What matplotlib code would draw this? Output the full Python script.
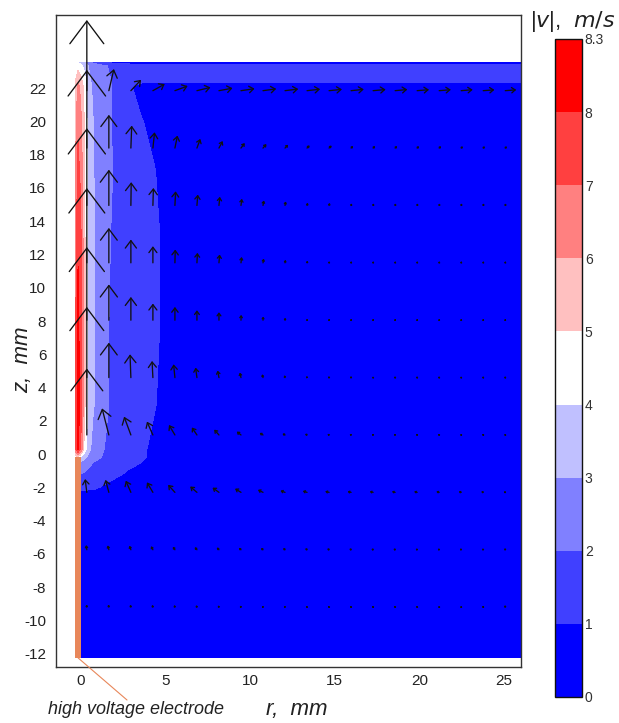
import numpy as np
import matplotlib
matplotlib.use('Agg')
import matplotlib.pyplot as plt
from matplotlib.colors import ListedColormap, BoundaryNorm
from matplotlib.patches import ArrowStyle

# ------------------------------------------------------------------ data
nan = np.nan
# grid of |v| (m/s)
r_nodes = [-0.3, -0.15, 0.0, 0.2, 0.3, 0.45, 0.75, 1.4, 2.5, 3.6, 4.4, 4.9, 6.0, 10.0, 16.0, 22.0, 26.0]
z_nodes = [-12.25, -2.6, -2.0, -1.0, -0.5, -0.2, 0.3, 3.0, 8.0, 13.0, 17.0, 20.0, 22.1, 22.45, 23.35, 23.55]
speed_rows = [
    [nan, nan, 0.20, 0.20, 0.20, 0.20, 0.20, 0.20, 0.19, 0.18, 0.17, 0.16, 0.15, 0.12, 0.10, 0.10, 0.10],
    [nan, nan, 0.50, 0.50, 0.50, 0.50, 0.50, 0.48, 0.45, 0.40, 0.38, 0.36, 0.33, 0.28, 0.24, 0.20, 0.20],
    [nan, nan, 1.20, 1.20, 1.20, 1.18, 1.15, 0.90, 0.60, 0.50, 0.45, 0.40, 0.35, 0.30, 0.25, 0.20, 0.20],
    [nan, nan, 2.20, 2.10, 2.00, 1.90, 1.75, 1.50, 1.10, 0.60, 0.50, 0.45, 0.40, 0.30, 0.25, 0.20, 0.20],
    [nan, nan, 2.70, 2.60, 2.50, 2.30, 2.00, 1.80, 1.45, 1.00, 0.70, 0.60, 0.45, 0.30, 0.25, 0.20, 0.20],
    [4.50, 4.80, 4.00, 3.40, 3.10, 2.80, 2.30, 1.90, 1.50, 1.15, 0.70, 0.60, 0.45, 0.30, 0.25, 0.20, 0.20],
    [7.00, 8.25, 7.00, 4.90, 4.20, 3.40, 2.60, 2.00, 1.60, 1.20, 0.70, 0.60, 0.45, 0.30, 0.25, 0.20, 0.20],
    [7.20, 8.25, 7.80, 5.60, 4.70, 3.90, 3.10, 2.10, 1.70, 1.30, 1.05, 0.70, 0.50, 0.35, 0.25, 0.20, 0.20],
    [6.80, 8.20, 7.60, 5.60, 4.70, 3.90, 3.10, 2.10, 1.70, 1.40, 1.20, 0.85, 0.50, 0.35, 0.25, 0.20, 0.20],
    [6.50, 7.90, 7.30, 5.50, 4.70, 3.90, 3.10, 2.15, 1.70, 1.40, 1.20, 0.85, 0.50, 0.35, 0.25, 0.20, 0.20],
    [6.00, 7.30, 6.80, 5.30, 4.60, 3.85, 3.05, 2.25, 1.70, 1.30, 1.02, 0.70, 0.50, 0.35, 0.25, 0.20, 0.20],
    [5.60, 6.80, 6.30, 5.10, 4.40, 3.70, 3.00, 2.30, 1.50, 1.05, 0.70, 0.60, 0.50, 0.35, 0.25, 0.20, 0.20],
    [5.30, 6.20, 5.80, 4.80, 4.10, 3.40, 2.80, 2.40, 1.40, 0.60, 0.50, 0.45, 0.45, 0.40, 0.30, 0.30, 0.30],
    [5.00, 5.80, 5.40, 4.60, 4.00, 3.30, 2.70, 2.30, 1.50, 1.25, 1.25, 1.25, 1.25, 1.25, 1.25, 1.25, 1.25],
    [4.50, 4.60, 4.30, 3.80, 3.40, 3.00, 2.50, 2.10, 1.50, 1.35, 1.35, 1.35, 1.35, 1.35, 1.35, 1.35, 1.35],
    [4.00, 4.00, 3.60, 3.20, 2.80, 2.40, 1.80, 1.00, 0.60, 0.60, 0.60, 0.60, 0.60, 0.60, 0.60, 0.60, 0.60],
]

# velocity arrows (m/s): rows bottom -> top
arrow_r = [0.37, 1.67, 2.97, 4.27, 5.57, 6.87, 8.17, 9.47, 10.77, 12.07,
           13.37, 14.67, 15.97, 17.27, 18.57, 19.87, 21.17, 22.47, 23.77, 25.07]
arrow_z = [-9.2, -5.75, -2.3, 1.15, 4.6, 8.05, 11.5, 14.95, 18.4, 21.85]
v_r = [
    [-0.02, -0.03, -0.04, -0.05, -0.05, -0.06, -0.06, -0.06, -0.06, -0.06, -0.05, -0.05, -0.05, -0.05, -0.05, -0.04, -0.04, -0.04, -0.03, -0.02],
    [-0.04, -0.07, -0.09, -0.11, -0.12, -0.13, -0.13, -0.13, -0.12, -0.12, -0.11, -0.11, -0.10, -0.10, -0.10, -0.09, -0.09, -0.08, -0.06, -0.03],
    [-0.10, -0.20, -0.30, -0.35, -0.40, -0.40, -0.38, -0.35, -0.30, -0.27, -0.25, -0.23, -0.21, -0.20, -0.19, -0.18, -0.17, -0.15, -0.12, -0.08],
    [0.00, -0.40, -0.40, -0.35, -0.35, -0.30, -0.28, -0.25, -0.20, -0.15, -0.12, -0.10, -0.09, -0.08, -0.08, -0.07, -0.07, -0.06, -0.05, -0.04],
    [0.00, 0.00, -0.05, -0.05, -0.08, -0.08, -0.08, -0.07, -0.05, -0.04, -0.03, -0.02, -0.02, -0.02, -0.02, -0.02, -0.02, -0.02, -0.02, -0.02],
    [0.00, 0.00, 0.00, 0.00, 0.00, 0.00, 0.00, 0.01, 0.01, 0.01, 0.01, 0.01, 0.01, 0.01, 0.01, 0.01, 0.01, 0.01, 0.01, 0.01],
    [0.00, 0.00, 0.00, 0.00, 0.02, 0.03, 0.04, 0.04, 0.04, 0.03, 0.03, 0.02, 0.02, 0.02, 0.02, 0.02, 0.02, 0.02, 0.02, 0.02],
    [0.00, 0.00, 0.02, 0.03, 0.04, 0.05, 0.05, 0.05, 0.05, 0.04, 0.04, 0.04, 0.04, 0.04, 0.04, 0.04, 0.04, 0.04, 0.04, 0.04],
    [0.00, 0.00, 0.05, 0.10, 0.15, 0.20, 0.22, 0.22, 0.20, 0.18, 0.15, 0.15, 0.12, 0.12, 0.12, 0.11, 0.11, 0.10, 0.10, 0.10],
    [0.00, 0.30, 0.60, 0.70, 0.75, 0.80, 0.80, 0.80, 0.78, 0.78, 0.77, 0.76, 0.75, 0.74, 0.72, 0.70, 0.69, 0.68, 0.66, 0.65],
]
v_z = [
    [0.15, 0.15, 0.14, 0.13, 0.12, 0.11, 0.10, 0.09, 0.08, 0.08, 0.07, 0.07, 0.07, 0.07, 0.07, 0.07, 0.07, 0.07, 0.08, 0.12],
    [0.28, 0.26, 0.24, 0.21, 0.18, 0.15, 0.13, 0.11, 0.10, 0.09, 0.08, 0.07, 0.07, 0.06, 0.06, 0.06, 0.06, 0.07, 0.08, 0.10],
    [0.80, 0.75, 0.70, 0.60, 0.45, 0.35, 0.28, 0.22, 0.15, 0.10, 0.08, 0.06, 0.05, 0.05, 0.05, 0.05, 0.05, 0.05, 0.05, 0.05],
    [4.00, 1.60, 1.10, 0.80, 0.60, 0.45, 0.32, 0.20, 0.12, 0.08, 0.06, 0.05, 0.05, 0.05, 0.05, 0.05, 0.05, 0.05, 0.05, 0.05],
    [4.25, 2.10, 1.40, 1.00, 0.80, 0.60, 0.42, 0.30, 0.20, 0.14, 0.10, 0.08, 0.08, 0.07, 0.07, 0.07, 0.07, 0.07, 0.07, 0.07],
    [4.40, 2.15, 1.40, 1.00, 0.80, 0.60, 0.48, 0.32, 0.22, 0.15, 0.10, 0.08, 0.08, 0.08, 0.08, 0.08, 0.08, 0.08, 0.08, 0.08],
    [4.50, 2.10, 1.40, 1.00, 0.80, 0.60, 0.50, 0.35, 0.25, 0.18, 0.13, 0.10, 0.10, 0.10, 0.10, 0.10, 0.10, 0.10, 0.10, 0.10],
    [4.65, 2.15, 1.40, 1.05, 0.85, 0.65, 0.52, 0.40, 0.30, 0.24, 0.16, 0.15, 0.12, 0.12, 0.12, 0.12, 0.12, 0.12, 0.12, 0.12],
    [4.70, 2.00, 1.35, 0.95, 0.75, 0.55, 0.42, 0.30, 0.24, 0.20, 0.16, 0.15, 0.12, 0.12, 0.12, 0.11, 0.11, 0.10, 0.10, 0.10],
    [4.25, 1.30, 0.65, 0.40, 0.28, 0.20, 0.15, 0.12, 0.11, 0.10, 0.09, 0.08, 0.08, 0.07, 0.07, 0.06, 0.06, 0.06, 0.05, 0.05],
]

levels = [0, 1, 2, 3, 4, 5, 6, 7, 8, 8.3]
level_colors = ['#0000ff', '#4040ff', '#8080ff', '#c0c0ff', '#ffffff',
                '#ffc0c0', '#ff8080', '#ff4040', '#ff0000']
cb_ticks = [0, 1, 2, 3, 4, 5, 6, 7, 8, 8.3]
cb_ticklabels = ['0', '1', '2', '3', '4', '5', '6', '7', '8', '8.3']
x_ticks = [0, 5, 10, 15, 20, 25]
y_ticks = list(range(-12, 23, 2))

# electrode geometry (mm)
electrode_r = (-0.3, 0.0)
electrode_z = (-12.25, -0.2)

# ------------------------------------------------------------------ style
W, H, DPI = 619, 723, 100
FONT = 'Liberation Sans'
plt.rcParams['font.family'] = [FONT, 'DejaVu Sans']
plt.rcParams['axes.unicode_minus'] = False
arrow_scale = 1.0          # mm of arrow per m/s
electrode_color = '#e8875a'
text_color = '#222222'

fig = plt.figure(figsize=(W / DPI, H / DPI), dpi=DPI)
fig.patch.set_facecolor('white')

def px_box(left, top, right, bottom):
    return [left / W, 1 - bottom / H, (right - left) / W, (bottom - top) / H]

ax = fig.add_axes(px_box(56, 15, 521, 667))
ax.set_xlim(-1.45, 26.0)
ax.set_ylim(-12.8, 26.4)

R, Z = np.meshgrid(np.array(r_nodes), np.array(z_nodes))
V = np.ma.masked_invalid(np.array(speed_rows))
cmap = ListedColormap(level_colors)
norm = BoundaryNorm(levels, cmap.N)
cs = ax.contourf(R, Z, V, levels=levels, cmap=cmap, norm=norm, antialiased=False)

# electrode
ax.fill_betweenx(list(electrode_z), electrode_r[0], electrode_r[1],
                 color=electrode_color, lw=0, zorder=2)

# arrows
style = ArrowStyle('->', head_length=0.32, head_width=0.24)
for i, z0 in enumerate(arrow_z):
    for j, r0 in enumerate(arrow_r):
        dr = v_r[i][j] * arrow_scale
        dz = v_z[i][j] * arrow_scale
        p0 = ax.transData.transform((r0, z0))
        p1 = ax.transData.transform((r0 + dr, z0 + dz))
        L_pt = np.hypot(*(p1 - p0)) * 72.0 / DPI
        ax.annotate('', xy=(r0 + dr, z0 + dz), xytext=(r0, z0),
                    xycoords='data', textcoords='data',
                    arrowprops=dict(arrowstyle=style, color='#111111', lw=0.95,
                                    shrinkA=0, shrinkB=0,
                                    mutation_scale=max(L_pt, 0.5)),
                    zorder=4, annotation_clip=False)

# axes cosmetics
ax.set_xticks(x_ticks)
ax.set_yticks(y_ticks)
ax.tick_params(length=0, labelsize=11, colors=text_color)
ax.tick_params(axis='y', pad=7)
ax.tick_params(axis='x', pad=5)
for s in ax.spines.values():
    s.set_color('#333333')
    s.set_linewidth(1.0)

ax.set_xlabel('r,  mm', fontsize=16, style='italic', color=text_color)
ax.xaxis.set_label_coords((297 - 56) / 465, (667 - 709) / 652)
ax.xaxis.label.set_va('center')
ax.set_ylabel('z,  mm', fontsize=16, style='italic', color=text_color)
ax.yaxis.set_label_coords((23 - 56) / 465, (667 - 360) / 652)
ax.yaxis.label.set_va('center')

# electrode label
fig.text(136 / W, 1 - 709 / H, 'high voltage electrode', fontsize=13,
         style='italic', color=text_color, ha='center', va='center')
ax.annotate('', xy=(-0.15, electrode_z[0]), xycoords='data',
            xytext=(127, H - 700), textcoords='figure pixels',
            arrowprops=dict(arrowstyle='-', color=electrode_color, lw=0.8,
                            shrinkA=0, shrinkB=0),
            annotation_clip=False)

# colorbar
cax = fig.add_axes(px_box(555, 39, 582, 697))
cb = fig.colorbar(cs, cax=cax, ticks=cb_ticks)
cb.ax.set_yticklabels(cb_ticklabels)
cb.ax.tick_params(length=0, labelsize=10, pad=2, colors='#333333')
cb.outline.set_linewidth(1.0)
cb.outline.set_edgecolor('#111111')
fig.text(573 / W, 1 - 21 / H, '|$v$|,  $m/s$', fontsize=16, color=text_color,
         ha='center', va='center')

fig.savefig('out.png', dpi=DPI, facecolor='white')
